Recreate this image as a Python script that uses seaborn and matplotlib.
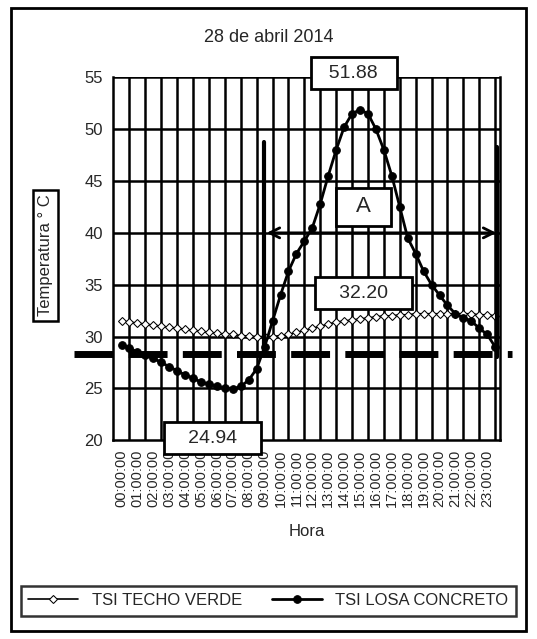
import matplotlib
matplotlib.use("Agg")
import matplotlib.pyplot as plt
import seaborn as sns
import numpy as np
import pandas as pd
from matplotlib.patches import Rectangle

hours = [i * 0.5 for i in range(48)]
concreto = [29.2, 28.9, 28.5, 28.2, 27.9, 27.5, 27.1, 26.7, 26.3, 26.0, 25.6, 25.4, 25.2, 25.0, 24.94, 25.2,
            25.8, 26.9, 29.0, 31.5, 34.0, 36.3, 38.0, 39.2, 40.5, 42.8, 45.5, 48.0, 50.2, 51.5, 51.88, 51.5,
            50.0, 48.0, 45.5, 42.5, 39.5, 38.0, 36.3, 35.0, 34.0, 33.0, 32.2, 31.8, 31.5, 30.8, 30.2, 29.0]
verde = [31.5, 31.4, 31.3, 31.2, 31.1, 31.0, 30.9, 30.8, 30.7, 30.6, 30.5, 30.4, 30.3, 30.25, 30.2, 30.1,
         30.05, 30.0, 30.0, 30.0, 30.1, 30.2, 30.4, 30.6, 30.8, 31.0, 31.2, 31.4, 31.5, 31.6, 31.7, 31.8,
         31.9, 32.0, 32.0, 32.1, 32.1, 32.2, 32.2, 32.2, 32.2, 32.2, 32.2, 32.2, 32.2, 32.1, 32.1, 32.0]
tick_labels = [f"{h:02d}:00:00" for h in range(24)]

sns.set_style("white")
plt.rcParams['font.family'] = ['Liberation Sans', 'DejaVu Sans']

fig = plt.figure(figsize=(5.37, 6.39), dpi=100)
ax = fig.add_axes([0.21, 0.311, 0.721, 0.568])

df = pd.DataFrame({"h": hours + hours, "t": verde + concreto,
                   "s": ["TSI TECHO VERDE"] * 48 + ["TSI LOSA CONCRETO"] * 48})
sns.lineplot(data=df[df.s == "TSI TECHO VERDE"], x="h", y="t", ax=ax, color="black", lw=1.2,
             marker="D", markersize=4.5, markerfacecolor="white", markeredgecolor="black",
             label="TSI TECHO VERDE", zorder=4)
sns.lineplot(data=df[df.s == "TSI LOSA CONCRETO"], x="h", y="t", ax=ax, color="black", lw=2,
             marker="o", markersize=5.5, markeredgecolor="black", label="TSI LOSA CONCRETO", zorder=5)

ax.set_xlim(-0.55, 23.8)
ax.set_ylim(20, 55)
ax.set_yticks(range(20, 56, 5))
ax.set_xticks(range(24))
ax.set_xticklabels(tick_labels, rotation=90, fontsize=10.5)
ax.tick_params(axis='y', labelsize=12)
for h in range(24):
    ax.axvline(h + 0.5, color="black", lw=1.8, zorder=1)
for y in range(25, 56, 5):
    ax.axhline(y, color="black", lw=1.8, zorder=1)
for s in ax.spines.values():
    s.set_color("black"); s.set_linewidth(1.8)
ax.spines['top'].set_visible(False)

ax.axhline(28.3, color="black", lw=5, dashes=(5.6, 2.2), zorder=6, xmin=-0.1, xmax=1.03, clip_on=False)
ax.plot([8.95, 8.95], [28.3, 48.8], color="black", lw=3, zorder=6)
ax.plot([23.6, 23.6], [28.0, 48.3], color="black", lw=3, zorder=6)
ax.annotate("", xy=(8.95, 40), xytext=(23.75, 40),
            arrowprops=dict(arrowstyle="<->", lw=2, color="black", mutation_scale=18), zorder=7)

def box(x, y, t, fs=14):
    ax.text(x, y, t, ha="center", va="center", fontsize=fs, zorder=8, clip_on=False,
            bbox=dict(boxstyle="square,pad=0.4", fc="white", ec="black", lw=2))

box(14.6, 55.4, "  51.88  ")
box(15.2, 42.5, "  A  ", 16)
box(15.2, 34.2, "   32.20   ")
box(5.7, 20.2, "   24.94   ")

ax.set_xlabel("Hora", fontsize=12, labelpad=12)
ax.set_ylabel("")
fig.text(0.085, 0.6, "Temperatura ° C", rotation=90, ha="center", va="center", fontsize=12,
         bbox=dict(boxstyle="square,pad=0.3", fc="white", ec="black", lw=1.8))
fig.text(0.5, 0.935, "28 de abril 2014", ha="center", fontsize=13)

ax.legend_.remove()
h_, l_ = ax.get_legend_handles_labels()
leg = fig.legend(h_, l_, loc="center", bbox_to_anchor=(0.5, 0.06), ncol=2, frameon=True, fancybox=False,
                 edgecolor="black", fontsize=12, handlelength=3, borderpad=0.45, columnspacing=1.8)
leg.get_frame().set_linewidth(1.8)
fig.patches.append(Rectangle((0.02, 0.012), 0.96, 0.976, transform=fig.transFigure,
                             fill=False, ec="black", lw=2))
fig.savefig("out.png", dpi=100)
